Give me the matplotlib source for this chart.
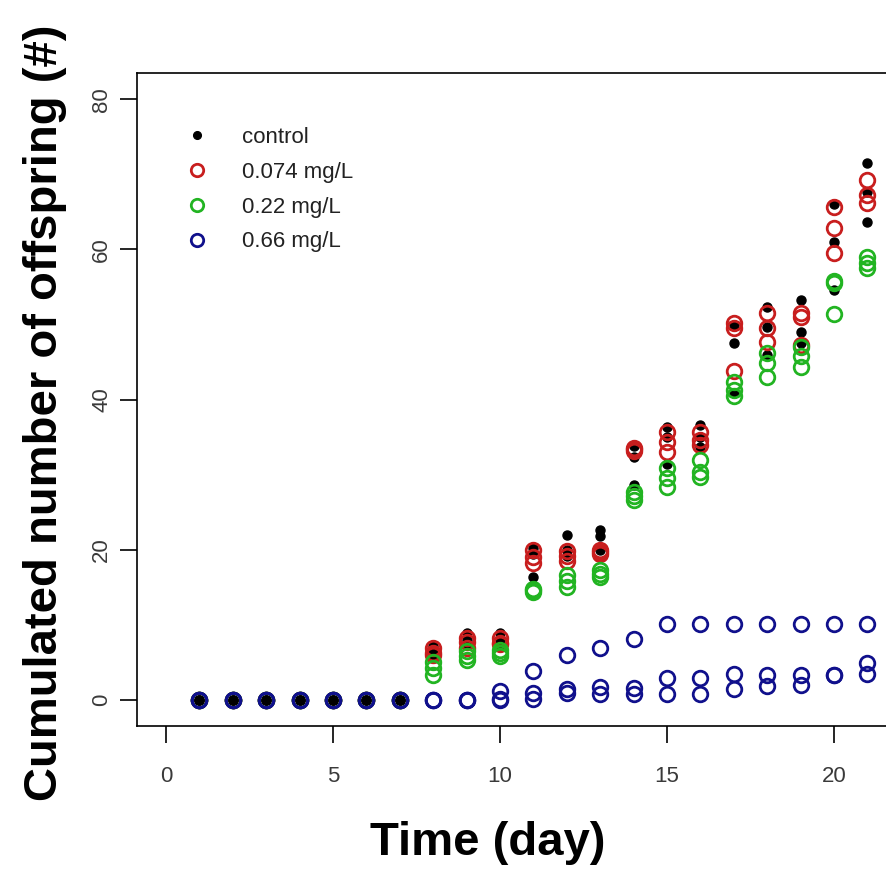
import numpy as np
import matplotlib
matplotlib.use("Agg")
import matplotlib.pyplot as plt

# days and replicate values (3 replicates per treatment)
days = list(range(1, 22))

control = [
    [0, 0, 0], [0, 0, 0], [0, 0, 0], [0, 0, 0], [0, 0, 0], [0, 0, 0], [0, 0, 0],
    [7.2, 6.5, 5.8], [8.9, 8.0, 7.5], [8.9, 8.0, 7.2],
    [20.2, 19.5, 16.4], [22.0, 20.0, 19.2], [22.6, 21.8, 20.0],
    [33.8, 32.3, 28.7], [36.4, 35.0, 31.4], [36.6, 35.0, 33.7],
    [50.0, 47.5, 40.9], [52.4, 49.7, 45.9], [53.3, 49.0, 47.5],
    [66.0, 61.0, 54.6], [71.5, 67.6, 63.6],
]
low = [
    [0, 0, 0], [0, 0, 0], [0, 0, 0], [0, 0, 0], [0, 0, 0], [0, 0, 0], [0, 0, 0],
    [6.9, 6.2, 6.0], [8.2, 7.7, 6.9], [8.2, 7.6, 7.4],
    [20.0, 19.1, 18.2], [19.8, 19.2, 18.5], [20.0, 19.7, 19.5],
    [33.6, 33.4, 33.2], [35.7, 34.3, 33.0], [35.7, 34.6, 34.0],
    [50.2, 49.6, 43.8], [51.5, 49.5, 47.7], [51.6, 51.0, 47.3],
    [65.6, 62.8, 59.5], [69.2, 67.2, 66.2],
]
mid = [
    [0, 0, 0], [0, 0, 0], [0, 0, 0], [0, 0, 0], [0, 0, 0], [0, 0, 0], [0, 0, 0],
    [5.0, 4.2, 3.3], [6.5, 5.8, 5.3], [6.6, 6.3, 5.8],
    [14.8, 14.6, 14.4], [16.6, 15.8, 15.0], [17.3, 16.8, 16.4],
    [27.7, 27.2, 26.7], [30.9, 29.6, 28.4], [32.0, 30.4, 29.7],
    [42.3, 41.3, 40.5], [46.2, 44.9, 43.0], [47.0, 45.8, 44.3],
    [55.8, 55.5, 51.4], [59.0, 58.2, 57.5],
]
high = [
    [0, 0, 0], [0, 0, 0], [0, 0, 0], [0, 0, 0], [0, 0, 0], [0, 0, 0], [0, 0, 0],
    [0, 0, 0], [0, 0, 0], [1.2, 0.2, 0],
    [3.8, 1.0, 0.2], [6.0, 1.5, 0.9], [6.9, 1.8, 0.8],
    [8.1, 1.6, 0.8], [10.1, 2.9, 0.8], [10.1, 2.9, 0.8],
    [10.1, 3.4, 1.5], [10.1, 3.3, 1.9], [10.1, 3.3, 2.0],
    [10.1, 3.3, 3.3], [10.1, 4.9, 3.4],
]
labels = ["control", "0.074 mg/L", "0.22 mg/L", "0.66 mg/L"]
colors = ["black", "#C81E1E", "#22B422", "#10108C"]

plt.rcParams['font.family'] = ['Liberation Sans', 'DejaVu Sans']

fig = plt.figure(figsize=(8.86, 8.69), dpi=100)
W, H = 886, 869
ax = fig.add_axes([137 / W, 143 / H, (895 - 137) / W, (726 - 73) / H])

handles = []
for i, series in enumerate([control, low, mid, high]):
    xs = np.repeat(days, 3)
    ys = np.array(series).ravel()
    if i == 0:
        h, = ax.plot(xs, ys, 'o', ms=6.5, color=colors[i], mec=colors[i],
                     linestyle='none', label=labels[i])
    else:
        h, = ax.plot(xs, ys, 'o', ms=10.5, mfc='none', mec=colors[i], mew=2.0,
                     linestyle='none', label=labels[i])
    handles.append(h)

ax.set_xlim(-0.87, 21.83)
ax.set_ylim(-3.46, 83.5)
ax.set_xticks([0, 5, 10, 15, 20])
ax.set_yticks([0, 20, 40, 60, 80])
ax.tick_params(direction='out', length=12, width=1.2, labelsize=16,
               labelcolor='#3a3a3a')
ax.tick_params(axis='x', pad=17)
ax.tick_params(axis='y', pad=6)
for lab in ax.get_yticklabels():
    lab.set_rotation(90)
    lab.set_va('center')
for sp in ax.spines.values():
    sp.set_linewidth(1.2)

leg = ax.legend(handles=handles, loc='upper left',
                bbox_to_anchor=(184 / W, 1 - 127 / H),
                bbox_transform=fig.transFigure, frameon=False, fontsize=16,
                handlelength=1.2, handletextpad=1.4, labelspacing=0.62,
                borderpad=0, borderaxespad=0, markerscale=0.85)
for t in leg.get_texts():
    t.set_color('#222222')

fig.text(488 / W, 1 - 843 / H, "Time (day)", fontsize=34, fontweight='bold',
         ha='center', va='center')
fig.text(45 / W, 1 - 413 / H, "Cumulated number of offspring (#)", fontsize=34,
         fontweight='bold', rotation=90, ha='center', va='center')

fig.savefig("out.png", dpi=100)
